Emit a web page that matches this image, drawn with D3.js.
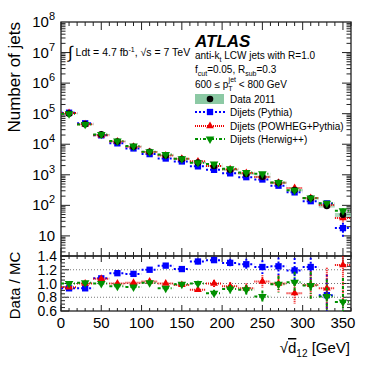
<!DOCTYPE html>
<html>
<head>
<meta charset="utf-8">
<script src="https://cdn.jsdelivr.net/npm/d3@7"></script>
<style>
  body { margin: 0; background: #fff; }
  svg { display: block; font-family: "Liberation Sans", Arial, sans-serif; }
</style>
</head>
<body>
<div id="chart"></div>
<script>
// bin centres of sqrt(d12) in GeV (20 GeV bins)
var binCenters = [10, 30, 50, 70, 90, 110, 130, 150, 170, 190, 210, 230, 250, 270, 290, 310, 330, 350];
var binHalf = 10;

var dataJets   = [1.0e5, 4.5e4, 2.1e4, 1.23e4, 8300, 5700, 4300, 3300, 2500, 1950, 1450, 1070, 870, 550, 316, 170, 96, 49];
var dataSysRel = [0.03, 0.03, 0.03, 0.04, 0.04, 0.05, 0.05, 0.05, 0.06, 0.06, 0.07, 0.07, 0.08, 0.08, 0.09, 0.1, 0.12, 0.15];

var pythiaJets = [1.075e5, 4.84e4, 1.95e4, 1.07e4, 7280, 4750, 3410, 2730, 1890, 1455, 1115, 836, 702, 440, 266, 137, 116, 18];
var powhegJets = [1.058e5, 4.5e4, 1.96e4, 1.23e4, 8220, 5530, 4300, 3370, 2750, 1950, 1510, 1150, 845, 550, 367, 173, 103, 38.6];
var herwigJets = [1.0e5, 4.46e4, 2.1e4, 1.28e4, 8740, 5640, 4620, 3330, 2500, 2270, 1580, 1180, 1075, 555, 310, 175, 118, 67];

var pythiaRatio = [0.93, 0.93, 1.075, 1.15, 1.14, 1.2, 1.26, 1.21, 1.32, 1.34, 1.3, 1.28, 1.24, 1.25, 1.19, 1.24, 0.83, 2.7];
var powhegRatio = [0.945, 1.0, 1.07, 1.0, 1.01, 1.03, 1.0, 0.98, 0.91, 1.0, 0.96, 0.93, 1.03, 1.0, 0.86, 0.98, 0.93, 1.27];
var herwigRatio = [1.0, 1.01, 1.0, 0.96, 0.95, 1.01, 0.93, 0.99, 1.0, 0.86, 0.92, 0.91, 0.81, 0.99, 1.02, 0.97, 0.81, 0.73];

var pythiaErr = [0.01, 0.01, 0.01, 0.015, 0.015, 0.02, 0.02, 0.03, 0.04, 0.05, 0.06, 0.08, 0.1, 0.13, 0.18, 0.25, 0.3, 1.0];
var powhegErr = [0.01, 0.01, 0.01, 0.015, 0.015, 0.02, 0.02, 0.03, 0.04, 0.05, 0.06, 0.07, 0.09, 0.12, 0.15, 0.2, 0.3, 0.6];
var herwigErr = [0.01, 0.01, 0.01, 0.015, 0.015, 0.02, 0.02, 0.03, 0.04, 0.05, 0.06, 0.07, 0.09, 0.12, 0.15, 0.2, 0.25, 0.35];

var xTicks = [0, 50, 100, 150, 200, 250, 300, 350];
var logTicks = [1e1, 1e2, 1e3, 1e4, 1e5, 1e6, 1e7, 1e8];
var ratioTicks = [0.6, 0.8, 1.0, 1.2, 1.4];
var ratioLines = [0.8, 1.0, 1.2];

var W = 382, H = 367;
var padL = 61, padR = 351, padT = 22, padMid = 256, padB = 311;

var series = [
  {name: "Dijets (Pythia)", jets: pythiaJets, ratio: pythiaRatio, err: pythiaErr, color: "#0000ff",
   dash: "2,2", sym: d3.symbolSquare, size: 40, rot: 0},
  {name: "Dijets (POWHEG+Pythia)", jets: powhegJets, ratio: powhegRatio, err: powhegErr, color: "#ee0000",
   dash: "1,1", sym: d3.symbolTriangle, size: 26, rot: 0},
  {name: "Dijets (Herwig++)", jets: herwigJets, ratio: herwigRatio, err: herwigErr, color: "#009000",
   dash: "3,2,1,2", sym: d3.symbolTriangle, size: 32, rot: 180}
];

var svg = d3.select("#chart").append("svg")
    .attr("width", W)
    .attr("height", H);

var x = d3.scaleLinear().domain([0, 360]).range([padL, padR]);
var y = d3.scaleLog().domain([2.2, 1e8]).range([padMid, padT]);
var yr = d3.scaleLinear().domain([0.6, 1.4]).range([padB, padMid]);

svg.append("clipPath").attr("id", "clipMain").append("rect")
    .attr("x", padL).attr("y", padT).attr("width", padR - padL).attr("height", padMid - padT);
svg.append("clipPath").attr("id", "clipRatio").append("rect")
    .attr("x", padL).attr("y", padMid).attr("width", padR - padL).attr("height", padB - padMid);

// ---------- axes frames & ticks ----------
function frame(y0, y1) {
  svg.append("rect")
      .attr("x", padL).attr("y", y0)
      .attr("width", padR - padL).attr("height", y1 - y0)
      .attr("fill", "none").attr("stroke", "#222").attr("stroke-width", 1.3);
}

function xTickMarks(y0, dir, big, small) {
  var g = svg.append("g").attr("stroke", "#222").attr("stroke-width", 1);
  d3.range(0, 361, 10).forEach(function(v) {
    var len = v % 50 == 0 ? big : small;
    g.append("line").attr("x1", x(v)).attr("x2", x(v))
        .attr("y1", y0).attr("y2", y0 + dir * len);
  });
}

frame(padT, padMid);
frame(padMid, padB);
xTickMarks(padT, 1, 8, 4);
xTickMarks(padMid, -1, 8, 4);
xTickMarks(padMid, 1, 6, 3);
xTickMarks(padB, -1, 6, 3);

// log y ticks, both sides
var gy = svg.append("g").attr("stroke", "#222").attr("stroke-width", 1);
for (var k = 0; k < 8; k++) {
  for (var m = 1; m < 10; m++) {
    var v = m * Math.pow(10, k);
    if (v < 2.2 || v > 1e8) continue;
    var len = m == 1 ? 9 : 4.5;
    gy.append("line").attr("x1", padL).attr("x2", padL + len).attr("y1", y(v)).attr("y2", y(v));
    gy.append("line").attr("x1", padR).attr("x2", padR - len).attr("y1", y(v)).attr("y2", y(v));
  }
}

// ratio y ticks
d3.range(0.6, 1.4001, 0.05).forEach(function(v) {
  var major = Math.abs(v * 5 - Math.round(v * 5)) < 1e-6;
  var len = major ? 8 : 4;
  gy.append("line").attr("x1", padL).attr("x2", padL + len).attr("y1", yr(v)).attr("y2", yr(v));
  gy.append("line").attr("x1", padR).attr("x2", padR - len).attr("y1", yr(v)).attr("y2", yr(v));
});

// tick labels
svg.append("g").selectAll("text")
    .data(logTicks)
    .enter().append("text")
    .attr("x", 55)
    .attr("y", function(d) { return y(d) + 5; })
    .attr("text-anchor", "end")
    .attr("font-size", 15)
    .each(function(d) {
      var t = d3.select(this);
      var p = Math.round(Math.log10(d));
      t.append("tspan").text("10");
      if (p > 1) t.append("tspan").attr("dy", -7).attr("font-size", 11).text(p);
    });

svg.append("g").selectAll("text")
    .data(ratioTicks)
    .enter().append("text")
    .attr("x", 57)
    .attr("y", function(d) { return yr(d) + 5; })
    .attr("text-anchor", "end")
    .attr("font-size", 14)
    .text(function(d) { return d.toFixed(1); });

svg.append("g").selectAll("text")
    .data(xTicks)
    .enter().append("text")
    .attr("x", function(d) { return x(d); })
    .attr("y", 328)
    .attr("text-anchor", "middle")
    .attr("font-size", 15)
    .text(function(d) { return d; });

// axis titles
svg.append("text")
    .attr("transform", "translate(20," + padT + ") rotate(-90)")
    .attr("text-anchor", "end")
    .attr("font-size", 17)
    .text("Number of jets");

svg.append("text")
    .attr("transform", "translate(20," + ((padMid + padB) / 2 + 2) + ") rotate(-90)")
    .attr("text-anchor", "middle")
    .attr("font-size", 15)
    .text("Data / MC");

var xt = svg.append("text")
    .attr("x", 350).attr("y", 353)
    .attr("text-anchor", "end")
    .attr("font-size", 15);
xt.append("tspan").text("\u221A");
xt.append("tspan").attr("text-decoration", "overline").text("d");
xt.append("tspan").attr("dy", 4).attr("font-size", 10).text("12");
xt.append("tspan").attr("dy", -4).text(" [GeV]");

// ---------- main panel ----------
var gm = svg.append("g").attr("clip-path", "url(#clipMain)");

// data systematic band
gm.append("g").selectAll("rect")
    .data(binCenters)
    .enter().append("rect")
    .attr("x", function(d) { return x(d - binHalf); })
    .attr("width", function(d) { return x(d + binHalf) - x(d - binHalf); })
    .attr("y", function(d, i) { return y(dataJets[i] * (1 + dataSysRel[i])); })
    .attr("height", function(d, i) { return y(dataJets[i] * (1 - dataSysRel[i])) - y(dataJets[i] * (1 + dataSysRel[i])); })
    .attr("fill", "#8cc9a4")
    .attr("opacity", 0.7);

function drawSeries(g, s, yScale, vals, relErr) {
  var gg = g.append("g");
  gg.selectAll("line.h")
      .data(binCenters)
      .enter().append("line")
      .attr("x1", function(d) { return x(d - binHalf); })
      .attr("x2", function(d) { return x(d + binHalf); })
      .attr("y1", function(d, i) { return yScale(vals[i]); })
      .attr("y2", function(d, i) { return yScale(vals[i]); })
      .attr("stroke", s.color).attr("stroke-width", 2).attr("stroke-dasharray", s.dash);
  gg.selectAll("line.v")
      .data(binCenters)
      .enter().append("line")
      .attr("x1", function(d) { return x(d); })
      .attr("x2", function(d) { return x(d); })
      .attr("y1", function(d, i) { return yScale(relErr(i, 1)); })
      .attr("y2", function(d, i) { return yScale(relErr(i, -1)); })
      .attr("stroke", s.color).attr("stroke-width", 2).attr("stroke-dasharray", s.dash);
  gg.selectAll("path")
      .data(binCenters)
      .enter().append("path")
      .attr("transform", function(d, i) {
        return "translate(" + x(d) + "," + yScale(vals[i]) + ") rotate(" + s.rot + ")";
      })
      .attr("d", d3.symbol().type(s.sym).size(s.size))
      .attr("fill", s.color);
}

drawSeries(gm, series[0], y, series[0].jets, function(i, sg) { return pythiaJets[i] * (1 + sg * pythiaErr[i] * 0.5); });
drawSeries(gm, series[1], y, series[1].jets, function(i, sg) { return powhegJets[i] * (1 + sg * powhegErr[i] * 0.5); });

gm.append("g").selectAll("circle")
    .data(binCenters)
    .enter().append("circle")
    .attr("cx", function(d) { return x(d); })
    .attr("cy", function(d, i) { return y(dataJets[i]); })
    .attr("r", 3.3)
    .attr("fill", "#000");

drawSeries(gm, series[2], y, series[2].jets, function(i, sg) { return herwigJets[i] * (1 + sg * herwigErr[i] * 0.5); });

// ---------- ratio panel ----------
var gr = svg.append("g").attr("clip-path", "url(#clipRatio)");

gr.selectAll("line.ref")
    .data(ratioLines)
    .enter().append("line")
    .attr("x1", padL).attr("x2", padR)
    .attr("y1", function(d) { return yr(d); })
    .attr("y2", function(d) { return yr(d); })
    .attr("stroke", "#777").attr("stroke-width", 1).attr("stroke-dasharray", "1,2");

series.forEach(function(s) {
  drawSeries(gr, s, yr, s.ratio, function(i, sg) { return s.ratio[i] + sg * s.err[i]; });
});

// ---------- labels & legend ----------
var lum = svg.append("text").attr("x", 68).attr("y", 56).attr("font-size", 10.5);
lum.append("tspan").attr("font-size", 17).attr("dy", 2).text("\u222B");
lum.append("tspan").attr("dy", -2).text(" Ldt = 4.7 fb");
lum.append("tspan").attr("dy", -4).attr("font-size", 7).text("-1");
lum.append("tspan").attr("dy", 4).text(", \u221As = 7 TeV");

svg.append("text")
    .attr("x", 195).attr("y", 47)
    .attr("font-size", 17).attr("font-weight", "bold").attr("font-style", "italic")
    .text("ATLAS");

var t1 = svg.append("text").attr("x", 195).attr("y", 59).attr("font-size", 10);
t1.append("tspan").text("anti-k");
t1.append("tspan").attr("dy", 3).attr("font-size", 7).text("t");
t1.append("tspan").attr("dy", -3).text(" LCW jets with R=1.0");

var t2 = svg.append("text").attr("x", 195).attr("y", 73).attr("font-size", 10);
t2.append("tspan").text("f");
t2.append("tspan").attr("dy", 3).attr("font-size", 7).text("cut");
t2.append("tspan").attr("dy", -3).text("=0.05, R");
t2.append("tspan").attr("dy", 3).attr("font-size", 7).text("sub");
t2.append("tspan").attr("dy", -3).text("=0.3");

var t3 = svg.append("text").attr("x", 195).attr("y", 88).attr("font-size", 10);
t3.append("tspan").text("600 \u2264 p");
t3.append("tspan").attr("dy", 3).attr("font-size", 7).text("T");
t3.append("tspan").attr("dy", -9).attr("dx", -4).attr("font-size", 7).text("jet");
t3.append("tspan").attr("dy", 6).text(" < 800 GeV");

var legY = [99, 112, 126, 139];
var lg = svg.append("g");
lg.append("rect").attr("x", 195).attr("y", legY[0] - 5).attr("width", 29).attr("height", 10).attr("fill", "#8cc9a4");
lg.append("circle").attr("cx", 210).attr("cy", legY[0]).attr("r", 3.3).attr("fill", "#000");
lg.append("text").attr("x", 230).attr("y", legY[0] + 4).attr("font-size", 10).text("Data 2011");

series.forEach(function(s, i) {
  var yy = legY[i + 1];
  lg.append("line").attr("x1", 195).attr("x2", 225).attr("y1", yy).attr("y2", yy)
      .attr("stroke", s.color).attr("stroke-width", 2).attr("stroke-dasharray", s.dash);
  lg.append("path")
      .attr("transform", "translate(210," + yy + ") rotate(" + s.rot + ")")
      .attr("d", d3.symbol().type(s.sym).size(s.size))
      .attr("fill", s.color);
  lg.append("text").attr("x", 230).attr("y", yy + 4).attr("font-size", 10).text(s.name);
});
</script>
</body>
</html>
